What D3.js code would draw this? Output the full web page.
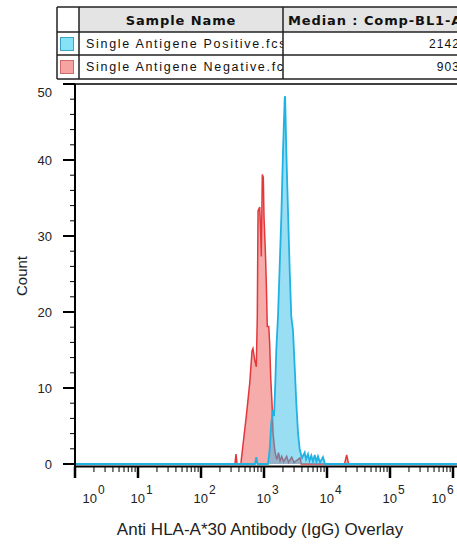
<!DOCTYPE html>
<html>
<head>
<meta charset="utf-8">
<script src="https://cdn.jsdelivr.net/npm/d3@7"></script>
<style>
  body { margin: 0; background: #fff; }
  svg { display: block; font-family: "Liberation Sans", Arial, sans-serif; }
</style>
</head>
<body>
<div id="chart"></div>
<script>
// table content
const headers = ['Sample Name', 'Median : Comp-BL1-A'];
const samples = ['Single Antigene Positive.fcs', 'Single Antigene Negative.fcs'];
const medians = ['2142', '903'];

// axis ticks
const decades = [1, 10, 100, 1000, 10000, 100000, 1000000];
const yMajor = [0, 10, 20, 30, 40, 50];

// histogram points: [fluorescence, count]
const positive = [
  [1, 0], [720, 0], [755, 0.9], [790, 0], [1157, 0], [1230, 1.9], [1306, 5.4],
  [1390, 7.1], [1442, 6.3], [1511, 10.6], [1567, 15], [1667, 19.4], [1774, 26],
  [1883, 32.5], [2004, 41.2], [2133, 48.2], [2165, 48.4], [2259, 41.2],
  [2404, 33.3], [2558, 25.5], [2710, 19.4], [2884, 17.6], [3069, 12.8],
  [3258, 8], [3467, 4.1], [3690, 1.9], [4010, 0.8], [4426, 1.5], [4645, 0.6],
  [4989, 1.3], [5272, 0.4], [5636, 1.1], [5998, 0.3], [6381, 1.2], [6808, 0.3],
  [7194, 1.0], [7745, 0.2], [8645, 0.9], [9295, 0], [1150000, 0]
];
const negative = [
  [1, 0], [345, 0], [360, 1.3], [373, 0], [430, 0], [437, 0.6], [482, 3.7],
  [524, 6.3], [593, 10.6], [646, 14.9], [668, 15.2], [711, 13.7], [755, 12.8],
  [783, 19.4], [804, 33.3], [855, 33.8], [887, 30.3], [906, 27.3], [940, 38.1],
  [975, 37.7], [1000, 32.5], [1050, 28.1], [1089, 23.7], [1127, 18.1],
  [1189, 18.1], [1230, 15.9], [1276, 11.5], [1340, 8.0], [1390, 4.1],
  [1479, 1.9], [1530, 1.2], [1600, 0.6], [1700, 1.5], [1800, 0.4], [1910, 1.0],
  [2050, 0.3], [2290, 1.0], [2450, 0.2], [2750, 0.9], [3000, 0.2], [3720, 0.8],
  [3900, 0], [19000, 0], [20500, 1.2], [22000, 0], [1150000, 0]
];

const W = 457, H = 546;
const svg = d3.select('#chart').append('svg').attr('width', W).attr('height', H);

const x = d3.scaleLog().domain([1, 1e6]).range([75, 453]);
const y = d3.scaleLinear().domain([0, 50]).range([464, 84]);

// ---- table ----
const tbl = { left: 57, top: 7, col1: 79, col2: 283, rows: [7, 32, 55, 79] };
const clip = svg.append('defs');
clip.append('clipPath').attr('id', 'nameclip')
  .append('rect').attr('x', tbl.col1).attr('y', 0).attr('width', tbl.col2 - tbl.col1).attr('height', 90);

svg.append('rect').attr('x', tbl.col1).attr('y', tbl.rows[0])
  .attr('width', W - tbl.col1).attr('height', tbl.rows[1] - tbl.rows[0]).attr('fill', '#e4e4e4');

const hdr = svg.append('g').attr('font-family', '"DejaVu Sans", Verdana, sans-serif')
  .attr('font-weight', 'bold').attr('font-size', 13).attr('letter-spacing', 0.9).attr('fill', '#111');
hdr.append('text').attr('x', (tbl.col1 + tbl.col2) / 2).attr('y', 25)
  .attr('text-anchor', 'middle').text(headers[0]);
hdr.append('text').attr('x', 288).attr('y', 25).text(headers[1]);

const swatch = [{ fill: '#86e2f6', stroke: '#3fa3c6' }, { fill: '#f6a3a3', stroke: '#cf6b6b' }];
samples.forEach((s, i) => {
  const top = tbl.rows[i + 1];
  svg.append('rect').attr('x', 60.5).attr('y', top + 5.5).attr('width', 13).attr('height', 13)
    .attr('fill', swatch[i].fill).attr('stroke', swatch[i].stroke);
  svg.append('text').attr('x', 86).attr('y', top + 16).attr('font-size', 12.5)
    .attr('letter-spacing', 1.7).attr('fill', '#111').attr('clip-path', 'url(#nameclip)').text(s);
  svg.append('text').attr('x', 460).attr('y', top + 16).attr('font-size', 12)
    .attr('letter-spacing', 1.1).attr('text-anchor', 'end').attr('fill', '#111').text(medians[i]);
});

const tl = svg.append('g').attr('stroke', '#222').attr('stroke-width', 1.5);
tbl.rows.forEach(r => tl.append('line').attr('x1', tbl.left).attr('x2', W).attr('y1', r).attr('y2', r));
[tbl.left, tbl.col1, tbl.col2].forEach(c =>
  tl.append('line').attr('x1', c).attr('x2', c).attr('y1', tbl.rows[0]).attr('y2', tbl.rows[3]));

// ---- histograms ----
const area = d3.area().x(d => x(d[0])).y0(y(0)).y1(d => y(d[1]));
const line = d3.line().x(d => x(d[0])).y(d => y(d[1]));

svg.append('path').datum(negative).attr('d', area).attr('fill', 'rgb(238,70,70)').attr('fill-opacity', 0.45);
svg.append('path').datum(negative).attr('d', line).attr('fill', 'none')
  .attr('stroke', '#e2383b').attr('stroke-width', 1.5);
svg.append('path').datum(positive).attr('d', area).attr('fill', 'rgb(40,185,232)').attr('fill-opacity', 0.47);
svg.append('path').datum(positive).attr('d', line).attr('fill', 'none')
  .attr('stroke', '#1fb3e4').attr('stroke-width', 1.8);

// ---- axes ----
const yMinor = d3.range(0, 51, 2).filter(v => v % 10 !== 0);
const xMinor = [];
decades.slice(0, -1).forEach(d => { for (let k = 2; k <= 9; k++) xMinor.push(d * k); });

const axisY = 466.5;
const ax = svg.append('g').attr('stroke', '#000');
ax.append('line').attr('x1', 75).attr('x2', 75).attr('y1', 84).attr('y2', 478).attr('stroke-width', 2);
ax.append('line').attr('x1', 75).attr('x2', W).attr('y1', 84).attr('y2', 84).attr('stroke-width', 1.5);
ax.append('line').attr('x1', 75).attr('x2', W).attr('y1', axisY).attr('y2', axisY).attr('stroke-width', 2);

ax.selectAll('.ymaj').data(yMajor).join('line')
  .attr('x1', 63).attr('x2', 75).attr('y1', d => y(d)).attr('y2', d => y(d)).attr('stroke-width', 2);
ax.selectAll('.ymin').data(yMinor).join('line')
  .attr('x1', 70).attr('x2', 75).attr('y1', d => y(d)).attr('y2', d => y(d)).attr('stroke-width', 1);
ax.selectAll('.xmaj').data(decades).join('line')
  .attr('x1', d => x(d)).attr('x2', d => x(d)).attr('y1', axisY).attr('y2', 478).attr('stroke-width', 2.5);
ax.selectAll('.xmin').data(xMinor).join('line')
  .attr('x1', d => x(d)).attr('x2', d => x(d)).attr('y1', axisY).attr('y2', 472).attr('stroke-width', 1);

svg.selectAll('.ylab').data(yMajor).join('text')
  .attr('x', 52).attr('y', d => d === 50 ? 97 : y(d) + 5)
  .attr('text-anchor', 'end').attr('font-size', 13).attr('fill', '#222').text(d => d);

decades.forEach((d, i) => {
  let cx = x(d);
  if (i === 0) cx += 15;
  if (i === decades.length - 1) cx -= 14;
  const t = svg.append('text').attr('x', cx - 7.5).attr('y', 503).attr('font-size', 13).attr('fill', '#222');
  t.append('tspan').text('10');
  t.append('tspan').attr('font-size', 12).attr('dx', 1).attr('dy', -9).text(Math.round(Math.log10(d)));
});

svg.append('text').attr('transform', 'translate(27,276) rotate(-90)')
  .attr('text-anchor', 'middle').attr('font-size', 15).attr('fill', '#222').text('Count');
svg.append('text').attr('x', 260).attr('y', 535)
  .attr('text-anchor', 'middle').attr('font-size', 17).attr('fill', '#222')
  .text('Anti HLA-A*30 Antibody (IgG) Overlay');
</script>
</body>
</html>
